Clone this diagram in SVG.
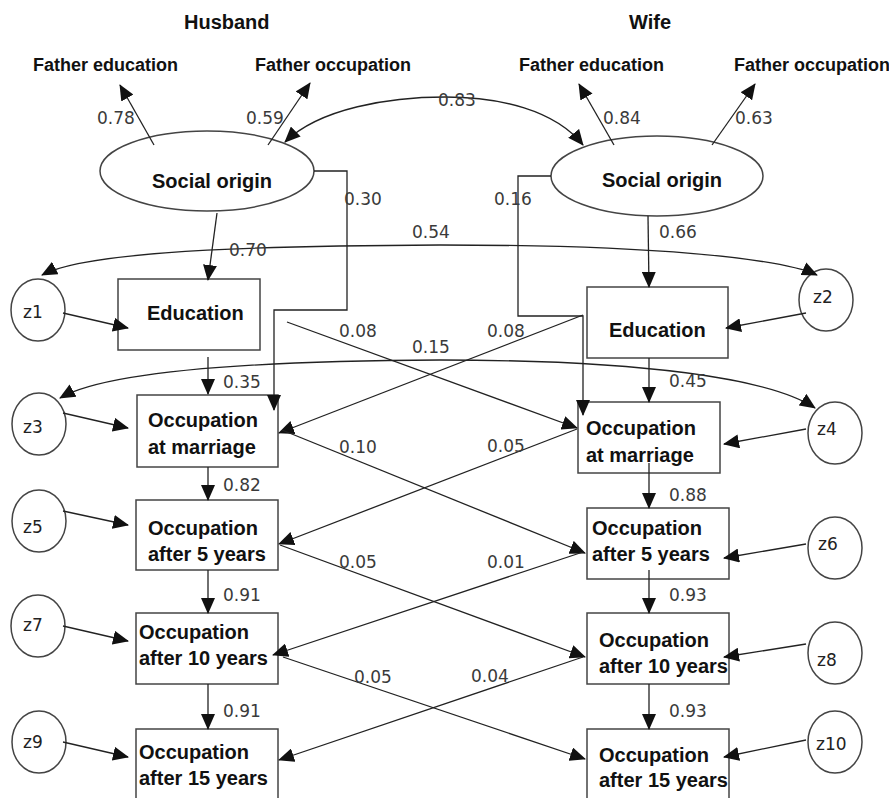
<svg xmlns="http://www.w3.org/2000/svg" width="889" height="798" viewBox="0 0 889 798">
<style>
.n{font-family:"Liberation Sans",Arial,sans-serif;font-weight:bold;font-size:20px;fill:#111}
.h{font-family:"Liberation Sans",Arial,sans-serif;font-weight:bold;font-size:18px;fill:#111}
.v{font-family:"DejaVu Sans",sans-serif;font-size:17px;fill:#3a3a3a}
.z{font-family:"DejaVu Sans",sans-serif;font-size:17px;fill:#222}
.ln{fill:none;stroke:#222;stroke-width:1.3;marker-end:url(#ah)}
.dl{fill:none;stroke:#222;stroke-width:1.3;marker-end:url(#ah);marker-start:url(#ah)}
.bx{fill:#fff;stroke:#444;stroke-width:1.5}
</style>
<defs>
<marker id="ah" viewBox="0 0 16 14" refX="15" refY="7" markerWidth="16" markerHeight="14" markerUnits="userSpaceOnUse" orient="auto-start-reverse"><path d="M0,0 L16,7 L0,14 z" fill="#111"/></marker>
</defs>
<rect width="889" height="798" fill="#fff"/>
<text class="n" x="184" y="29">Husband</text>
<text class="n" x="629" y="29">Wife</text>
<g id="h-fedu"><text class="h" x="33" y="71">Father education</text></g>
<g id="h-focc"><text class="h" x="255" y="71">Father occupation</text></g>
<g id="w-fedu"><text class="h" x="519" y="71">Father education</text></g>
<g id="w-focc"><text class="h" x="734" y="71">Father occupation</text></g>
<g id="h-origin"><ellipse class="bx" cx="207" cy="171" rx="107" ry="40"/><text class="n" x="152" y="188">Social origin</text></g>
<g id="w-origin"><ellipse class="bx" cx="657" cy="176" rx="106" ry="40"/><text class="n" x="602" y="187">Social origin</text></g>
<g id="h-edu"><rect class="bx" x="118" y="279" width="142" height="71"/><text class="n" x="147" y="320">Education</text></g>
<g id="w-edu"><rect class="bx" x="587" y="287" width="141" height="71"/><text class="n" x="609" y="337">Education</text></g>
<g id="h-occm"><rect class="bx" x="137" y="395" width="141" height="72"/><text class="n" x="148" y="427">Occupation</text><text class="n" x="148" y="454">at marriage</text></g>
<g id="w-occm"><rect class="bx" x="578" y="402" width="142" height="71"/><text class="n" x="586" y="435">Occupation</text><text class="n" x="586" y="462">at marriage</text></g>
<g id="h-a5"><rect class="bx" x="136" y="500" width="142" height="70"/><text class="n" x="148" y="535">Occupation</text><text class="n" x="148" y="561">after 5 years</text></g>
<g id="w-a5"><rect class="bx" x="587" y="508" width="142" height="71"/><text class="n" x="592" y="535">Occupation</text><text class="n" x="592" y="561">after 5 years</text></g>
<g id="h-a10"><rect class="bx" x="136" y="613" width="142" height="71"/><text class="n" x="139" y="639">Occupation</text><text class="n" x="139" y="665">after 10 years</text></g>
<g id="w-a10"><rect class="bx" x="587" y="613" width="142" height="71"/><text class="n" x="599" y="647">Occupation</text><text class="n" x="599" y="673">after 10 years</text></g>
<g id="h-a15"><rect class="bx" x="136" y="729" width="142" height="100"/><text class="n" x="139" y="759">Occupation</text><text class="n" x="139" y="785">after 15 years</text></g>
<g id="w-a15"><rect class="bx" x="587" y="729" width="142" height="100"/><text class="n" x="599" y="762">Occupation</text><text class="n" x="599" y="787">after 15 years</text></g>
<g id="z1"><ellipse class="bx" cx="38" cy="310" rx="27" ry="31"/><text class="z" x="23" y="318">z1</text></g>
<g id="z3"><ellipse class="bx" cx="39" cy="424" rx="27" ry="31"/><text class="z" x="23" y="433">z3</text></g>
<g id="z5"><ellipse class="bx" cx="39" cy="521" rx="27" ry="31"/><text class="z" x="23" y="533">z5</text></g>
<g id="z7"><ellipse class="bx" cx="38" cy="626" rx="27" ry="31"/><text class="z" x="23" y="631">z7</text></g>
<g id="z9"><ellipse class="bx" cx="39" cy="742" rx="27" ry="31"/><text class="z" x="23" y="748">z9</text></g>
<g id="z2"><ellipse class="bx" cx="826" cy="300" rx="27" ry="31"/><text class="z" x="813" y="303">z2</text></g>
<g id="z4"><ellipse class="bx" cx="835" cy="433" rx="27" ry="31"/><text class="z" x="817" y="435">z4</text></g>
<g id="z6"><ellipse class="bx" cx="835" cy="548" rx="27" ry="31"/><text class="z" x="818" y="550">z6</text></g>
<g id="z8"><ellipse class="bx" cx="835" cy="653" rx="27" ry="31"/><text class="z" x="817" y="666">z8</text></g>
<g id="z10"><ellipse class="bx" cx="835" cy="742" rx="27" ry="31"/><text class="z" x="816" y="750">z10</text></g>
<g id="connectors">
<path class="ln" d="M154,145 L120,85"/>
<path class="ln" d="M268,145 L310,83"/>
<path class="ln" d="M614,145 L579,84"/>
<path class="ln" d="M712,145 L755,84"/>
<path class="dl" d="M285,142 C320,108 390,97 445,97 C500,97 555,110 583,145"/>
<path class="dl" d="M42,275 C80,255 200,246 440,245 C650,245 780,258 817,275"/>
<path class="dl" d="M60,398 C100,375 220,361 440,360 C640,360 770,378 815,408"/>
<path class="ln" d="M314,171 H347 V310 H274 V410"/>
<path class="ln" d="M551,176 H518 V316 H583 V415"/>
<path class="ln" d="M217,213 L208,280"/>
<path class="ln" d="M648,216 L649,287"/>
<path class="ln" d="M208,357 L208,394"/>
<path class="ln" d="M649,358 L649,402"/>
<path class="ln" d="M208,467 L208,500"/>
<path class="ln" d="M649,463 L649,508"/>
<path class="ln" d="M208,570 L208,613"/>
<path class="ln" d="M649,570 L649,613"/>
<path class="ln" d="M208,684 L208,729"/>
<path class="ln" d="M649,684 L649,729"/>
<path class="ln" d="M63,313 L128,328"/>
<path class="ln" d="M63,413 L128,428"/>
<path class="ln" d="M63,511 L128,525"/>
<path class="ln" d="M63,626 L128,641"/>
<path class="ln" d="M63,742 L128,757"/>
<path class="ln" d="M806,313 L726,328"/>
<path class="ln" d="M806,429 L724,444"/>
<path class="ln" d="M806,544 L724,558"/>
<path class="ln" d="M806,644 L724,657"/>
<path class="ln" d="M806,740 L724,757"/>
<path class="ln" d="M287,322 L577,428"/>
<path class="ln" d="M583,315 L279,433"/>
<path class="ln" d="M282,430 L585,553"/>
<path class="ln" d="M577,429 L279,544"/>
<path class="ln" d="M280,545 L585,657"/>
<path class="ln" d="M583,552 L273,655"/>
<path class="ln" d="M283,657 L585,759"/>
<path class="ln" d="M583,657 L279,760"/>
</g>
<g id="labels">
<text class="v" x="97" y="124">0.78</text>
<text class="v" x="246" y="124">0.59</text>
<text class="v" x="438" y="106">0.83</text>
<text class="v" x="603" y="124">0.84</text>
<text class="v" x="735" y="124">0.63</text>
<text class="v" x="344" y="205">0.30</text>
<text class="v" x="494" y="205">0.16</text>
<text class="v" x="659" y="238">0.66</text>
<text class="v" x="229" y="256">0.70</text>
<text class="v" x="412" y="238">0.54</text>
<text class="v" x="339" y="337">0.08</text>
<text class="v" x="487" y="337">0.08</text>
<text class="v" x="412" y="353">0.15</text>
<text class="v" x="223" y="388">0.35</text>
<text class="v" x="669" y="387">0.45</text>
<text class="v" x="339" y="453">0.10</text>
<text class="v" x="487" y="452">0.05</text>
<text class="v" x="223" y="491">0.82</text>
<text class="v" x="669" y="501">0.88</text>
<text class="v" x="339" y="568">0.05</text>
<text class="v" x="487" y="568">0.01</text>
<text class="v" x="223" y="601">0.91</text>
<text class="v" x="669" y="601">0.93</text>
<text class="v" x="354" y="683">0.05</text>
<text class="v" x="471" y="682">0.04</text>
<text class="v" x="223" y="717">0.91</text>
<text class="v" x="669" y="717">0.93</text>
</g>
</svg>
